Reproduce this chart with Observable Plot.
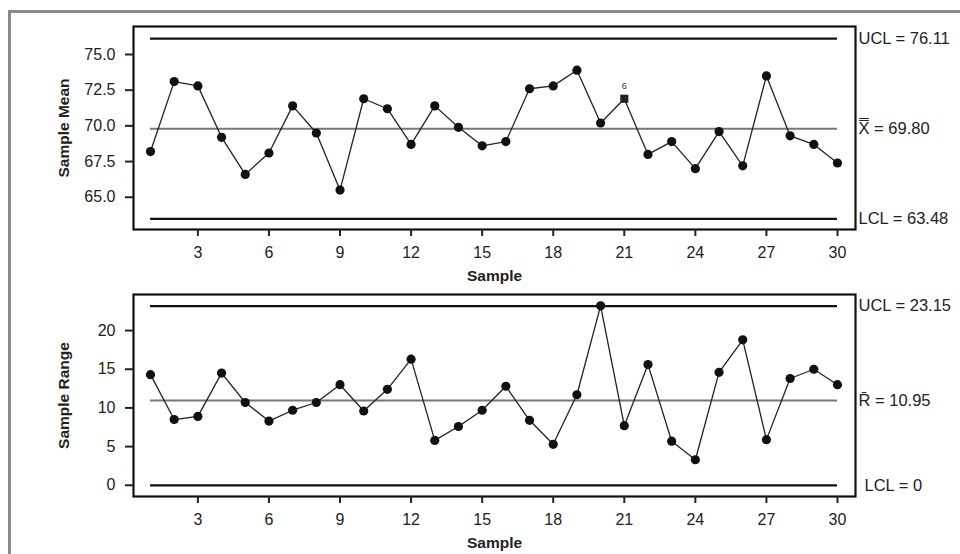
<!DOCTYPE html>
<html>
<head>
<meta charset="utf-8">
<script src="https://cdn.jsdelivr.net/npm/d3@7"></script>
<script src="https://cdn.jsdelivr.net/npm/@observablehq/plot@0.6"></script>
<style>
  html, body { margin: 0; padding: 0; background: #fff; }
  body { width: 960px; height: 554px; position: relative; overflow: hidden; font-family: "Liberation Sans", Arial, sans-serif; }
  #border { position: absolute; left: 8px; top: 10px; width: 980px; height: 580px; border: 3px solid #8a8a8a; box-sizing: border-box; }
  #top, #bottom { position: absolute; left: 0; }
  #top { top: 0; }
  #bottom { top: 285px; }
  g[aria-label="x-axis label"] text, g[aria-label="y-axis label"] text { font-weight: bold; font-size: 15.5px; }
</style>
</head>
<body>
<div id="border"></div>
<div id="top"></div>
<div id="bottom"></div>
<script>
// ---- data ----
const samples = d3.range(1, 31);
const sampleMeans = [68.2, 73.1, 72.8, 69.2, 66.6, 68.1, 71.4, 69.5, 65.5, 71.9,
                     71.2, 68.7, 71.4, 69.9, 68.6, 68.9, 72.6, 72.8, 73.9, 70.2,
                     71.9, 68.0, 68.9, 67.0, 69.6, 67.2, 73.5, 69.3, 68.7, 67.4];
const sampleRanges = [14.3, 8.5, 8.9, 14.5, 10.7, 8.3, 9.7, 10.7, 13.0, 9.6,
                      12.4, 16.3, 5.8, 7.6, 9.7, 12.8, 8.4, 5.3, 11.7, 23.2,
                      7.7, 15.6, 5.7, 3.3, 14.6, 18.8, 5.9, 13.8, 15.0, 13.0];
const meanLimits = {ucl: 76.11, center: 69.80, lcl: 63.48};
const rangeLimits = {ucl: 23.15, center: 10.95, lcl: 0};
const meanLimitLabels = ["UCL = 76.11", "X\u033F = 69.80", "LCL = 63.48"];
const rangeLimitLabels = ["UCL = 23.15", "R\u0304 = 10.95", "LCL = 0"];
const flaggedMeans = [{sample: 21, test: "6"}];
const xTicks = [3, 6, 9, 12, 15, 18, 21, 24, 27, 30];
const meanTicks = [65, 67.5, 70, 72.5, 75];
const rangeTicks = [0, 5, 10, 15, 20];

const meanRows = samples.map((s, i) => ({sample: s, value: sampleMeans[i], flagged: flaggedMeans.some(f => f.sample === s)}));
const rangeRows = samples.map((s, i) => ({sample: s, value: sampleRanges[i], flagged: false}));
const flaggedRows = flaggedMeans.map(f => ({...f, value: sampleMeans[samples.indexOf(f.sample)]}));

function controlChart({rows, limits, labels, yDomain, yTicks, yFormat, yLabel, height, marginTop, marginBottom, flagged}) {
  const limitRows = [
    {value: limits.ucl, label: labels[0], kind: "limit", indent: false},
    {value: limits.center, label: labels[1], kind: "center", indent: false},
    {value: limits.lcl, label: labels[2], kind: "limit", indent: limits.lcl === 0}
  ];
  const x0 = samples[0], x1 = samples[samples.length - 1];
  return Plot.plot({
    width: 960,
    height,
    marginLeft: 133,
    marginRight: 105,
    marginTop,
    marginBottom,
    style: {fontFamily: "'Liberation Sans', Arial, sans-serif", fontSize: "16px", color: "#222", background: "transparent", overflow: "visible"},
    x: {domain: [0.2824, 30.76]},
    y: {domain: yDomain},
    marks: [
      Plot.ruleY(limitRows.filter(d => d.kind === "limit"), {y: "value", x1: x0, x2: x1, stroke: "#111", strokeWidth: 2.2}),
      Plot.ruleY(limitRows.filter(d => d.kind === "center"), {y: "value", x1: x0, x2: x1, stroke: "#777", strokeWidth: 2}),
      Plot.line(rows, {x: "sample", y: "value", stroke: "#222", strokeWidth: 1.3}),
      Plot.dot(rows.filter(d => !d.flagged), {x: "sample", y: "value", r: 4.6, fill: "#111", stroke: "none"}),
      Plot.dot(rows.filter(d => d.flagged), {x: "sample", y: "value", symbol: "square", r: 4.6, fill: "#222", stroke: "none"}),
      Plot.text(flagged, {x: "sample", y: "value", text: "test", dy: -13, fontSize: 9, fill: "#333"}),
      Plot.text(limitRows.filter(d => !d.indent), {y: "value", text: "label", frameAnchor: "right", textAnchor: "start", dx: 3, fontSize: 16.5, fill: "#222"}),
      Plot.text(limitRows.filter(d => d.indent), {y: "value", text: "label", frameAnchor: "right", textAnchor: "start", dx: 9, fontSize: 16.5, fill: "#222"}),
      Plot.frame({stroke: "#111", strokeWidth: 2.2}),
      Plot.axisX({ticks: xTicks, tickSize: 7, tickPadding: 10, strokeWidth: 2, label: "Sample", labelArrow: "none", labelAnchor: "center", labelOffset: 51}),
      Plot.axisY({ticks: yTicks, tickFormat: yFormat, tickSize: 8, tickPadding: 10, strokeWidth: 2, label: yLabel, labelArrow: "none", labelAnchor: "center", labelOffset: 76})
    ]
  });
}

document.getElementById("top").append(controlChart({
  rows: meanRows, limits: meanLimits, labels: meanLimitLabels,
  yDomain: [62.74, 76.96], yTicks: meanTicks, yFormat: d3.format(".1f"), yLabel: "Sample Mean",
  height: 285, marginTop: 26, marginBottom: 56, flagged: flaggedRows
}));
document.getElementById("bottom").append(controlChart({
  rows: rangeRows, limits: rangeLimits, labels: rangeLimitLabels,
  yDomain: [-1.45, 24.66], yTicks: rangeTicks, yFormat: d3.format("d"), yLabel: "Sample Range",
  height: 269, marginTop: 9, marginBottom: 58, flagged: []
}));
</script>
</body>
</html>
